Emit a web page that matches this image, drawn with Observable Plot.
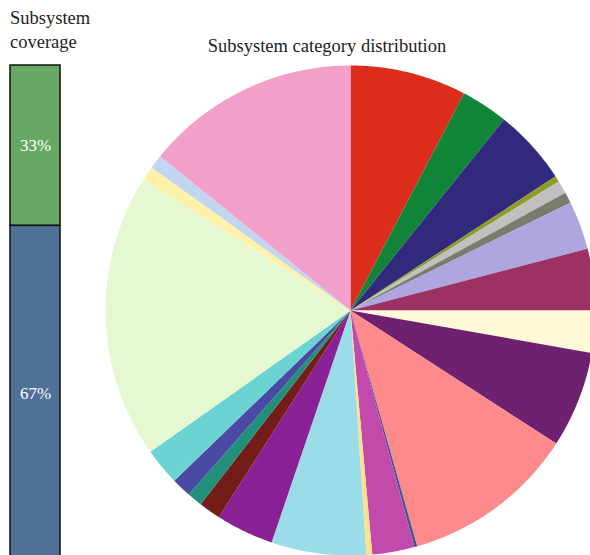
<!DOCTYPE html>
<html><head><meta charset="utf-8">
<script src="https://cdn.jsdelivr.net/npm/d3@7"></script>
<script src="https://cdn.jsdelivr.net/npm/@observablehq/plot@0.6"></script>
<style>
body{margin:0;background:#fff;font-family:"Liberation Serif",serif;}
#wrap{position:relative;width:590px;height:555px;overflow:hidden;background:#fff;}
#pie,#bar{position:absolute;left:0;top:0;}
#pie svg,#bar svg{background:transparent;}
.t1{position:absolute;left:10px;top:7px;font-family:"Liberation Serif",serif;font-size:18.5px;line-height:23.5px;color:#222;}
.t2{position:absolute;left:0;width:654px;text-align:center;top:36px;font-family:"Liberation Serif",serif;font-size:18.5px;color:#222;}
</style></head>
<body>
<div id="wrap">
  <div id="pie"></div>
  <div id="bar"></div>
  <div class="t1">Subsystem<br>coverage</div>
  <div class="t2">Subsystem category distribution</div>
</div>
<script>
// Pie slices (clockwise from 12 o'clock), values estimated in degrees of arc
const categories = ["C1","C2","C3","C4","C5","C6","C7","C8","C9","C10","C11","C12",
  "C13","C14","C15","C16","C17","C18","C19","C20","C21","C22","C23","C24"];
const values = [27.6,11.2,18.0,1.4,3.1,2.6,11.5,14.6,10.0,22.9,41.3,0.7,
  10.0,1.4,22.5,13.7,5.2,3.6,4.7,8.8,67.6,3.3,3.3,51.0];
const colors = ["#dc2d1c","#108537","#31297c","#8f9b26","#c0c0c0","#797b6d","#aea6e0","#9c3262",
  "#fff9d8","#6e216f","#ff8a8b","#4a5496","#c14aaa","#ffe08c","#9adde9","#8a2096",
  "#741c17","#21907b","#4a4aa5","#6cd3d3","#e6f8d1","#fff2a8","#c2d6f1","#f2a0c9"];

// Coverage bar
const coverLabels = ["33%","67%"];
const coverValues = [0.324,0.676];
const coverColors = ["#67a864","#4f7097"];

const R = 245;
const total = d3.sum(values);
const pts = [];
let acc = 0;
values.forEach((v,i)=>{
  const a0 = acc/total*2*Math.PI, a1 = (acc+v)/total*2*Math.PI;
  acc += v;
  pts.push({cat:categories[i], x:0, y:0});
  const n = Math.max(2, Math.ceil((a1-a0)/(Math.PI/360)));
  for(let k=0;k<=n;k++){
    const a = a0 + (a1-a0)*k/n;
    pts.push({cat:categories[i], x:R*Math.sin(a), y:R*Math.cos(a)});
  }
});

const pie = Plot.plot({
  width:590, height:555, margin:0,
  x:{domain:[-350,240], range:[0,590], axis:null},
  y:{domain:[-245,310], range:[555,0], axis:null},
  color:{domain:categories, range:colors},
  marks:[
    Plot.line(pts, {x:"x", y:"y", z:"cat", fill:"cat", stroke:"none", curve:"linear"})
  ]
});
document.getElementById("pie").appendChild(pie);

const segs = [];
let c = 0;
coverValues.forEach((v,i)=>{ segs.push({label:coverLabels[i], y1:c, y2:c+v, ym:c+v/2}); c+=v; });

const bar = Plot.plot({
  width:70, height:555, margin:0,
  style:{fontFamily:"Liberation Serif, serif", background:"transparent"},
  x:{domain:[0,1], range:[10,60], axis:null},
  y:{domain:[0,1], range:[65,560], axis:null},
  color:{domain:coverLabels, range:coverColors},
  marks:[
    Plot.rect(segs, {x1:0, x2:1, y1:"y1", y2:"y2", fill:"label", stroke:"#111", strokeWidth:1.5}),
    Plot.text(segs, {x:0.5, y:"ym", text:"label", fill:"white", fontSize:17})
  ]
});
document.getElementById("bar").appendChild(bar);
</script>
</body></html>
